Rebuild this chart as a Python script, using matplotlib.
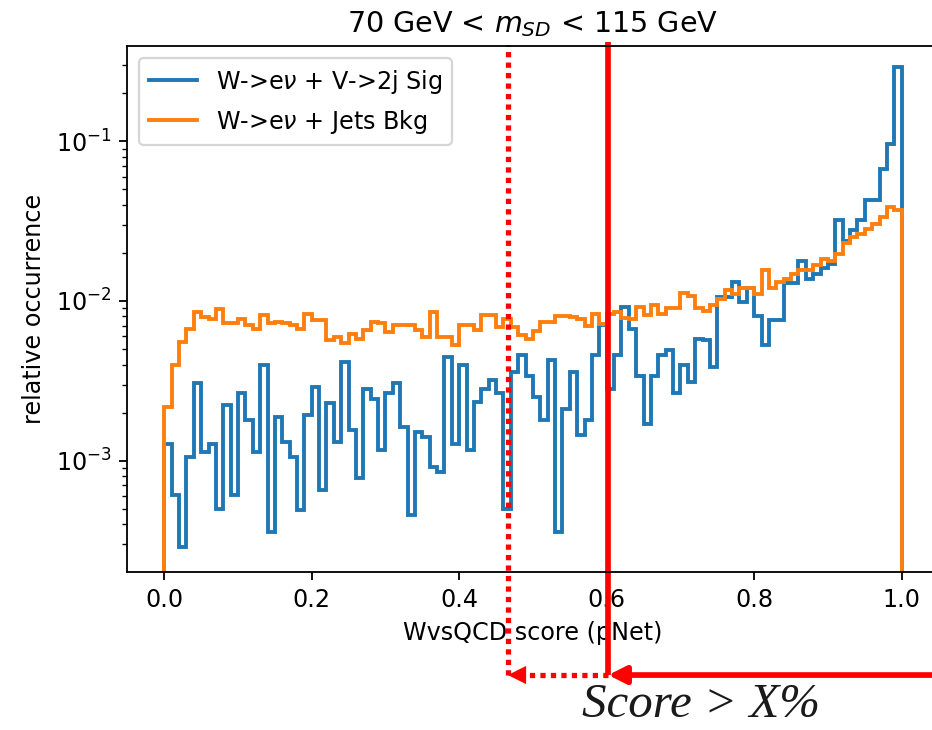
import numpy as np

import matplotlib as mpl
mpl.use('Agg')
import matplotlib.pyplot as plt

# normalised pNet WvsQCD score, 100 bins in [0, 1]
edges = np.linspace(0.0, 1.0, 101)

sig = [0.00128, 0.00061, 0.00029, 0.00106, 0.00305, 0.00114, 0.00128, 0.00050, 0.00223, 0.00061,
       0.00264, 0.00180, 0.00114, 0.00397, 0.00036, 0.00188, 0.00131, 0.00106, 0.00049, 0.00193,
       0.00290, 0.00066, 0.00229, 0.00131, 0.00416, 0.00156, 0.00078, 0.00283, 0.00245, 0.00117,
       0.00264, 0.00305, 0.00163, 0.00046, 0.00152, 0.00141, 0.00092, 0.00085, 0.00447, 0.00128,
       0.00397, 0.00117, 0.00234, 0.00283, 0.00319, 0.00264, 0.00050, 0.00360, 0.00457, 0.00340,
       0.00251, 0.00180, 0.00430, 0.00036, 0.00212, 0.00360, 0.00145, 0.00180, 0.00457, 0.00705,
       0.00283, 0.00457, 0.00917, 0.00671, 0.00340, 0.00171, 0.00340, 0.00457, 0.00492, 0.00264,
       0.00397, 0.00312, 0.00582, 0.00570, 0.00387, 0.01060, 0.01060, 0.01320, 0.00990, 0.01200,
       0.00800, 0.00530, 0.00760, 0.00760, 0.01300, 0.01300, 0.01790, 0.01380, 0.01480, 0.01600,
       0.01710, 0.03190, 0.02390, 0.02770, 0.03190, 0.04260, 0.04260, 0.06700, 0.09630, 0.29000]

bkg = [0.00218, 0.00397, 0.00555, 0.00671, 0.00853, 0.00794, 0.00776, 0.00895, 0.00723, 0.00723,
       0.00776, 0.00705, 0.00671, 0.00813, 0.00723, 0.00740, 0.00723, 0.00705, 0.00671, 0.00833,
       0.00758, 0.00758, 0.00568, 0.00596, 0.00542, 0.00625, 0.00580, 0.00656, 0.00740, 0.00723,
       0.00640, 0.00705, 0.00705, 0.00705, 0.00656, 0.00596, 0.00853, 0.00596, 0.00596, 0.00529,
       0.00705, 0.00705, 0.00656, 0.00813, 0.00813, 0.00689, 0.00776, 0.00690, 0.00610, 0.00580,
       0.00650, 0.00740, 0.00740, 0.00810, 0.00810, 0.00790, 0.00770, 0.00700, 0.00830, 0.00720,
       0.00830, 0.00850, 0.00780, 0.00770, 0.00920, 0.00820, 0.00950, 0.00830, 0.00900, 0.00900,
       0.01120, 0.01080, 0.00900, 0.00870, 0.00950, 0.01030, 0.01170, 0.01110, 0.01200, 0.01200,
       0.01110, 0.01560, 0.01200, 0.01320, 0.01380, 0.01480, 0.01560, 0.01560, 0.01670, 0.01840,
       0.01790, 0.01980, 0.02290, 0.02510, 0.02640, 0.02830, 0.03050, 0.03350, 0.03850, 0.03700]

# working point cuts
cut_lo = 0.466
cut_hi = 0.602

plt.rcParams['font.size'] = 10.5
plt.rcParams['axes.titlesize'] = 12.6

fig = plt.figure(figsize=(932 / 164, 730 / 164), dpi=164)
ax = fig.add_axes([0.1367, 0.2168, 0.8703, 0.7201])

ax.stairs(sig, edges, label='W->e$\\nu$ + V->2j Sig', lw=1.7)
ax.stairs(bkg, edges, label='W->e$\\nu$ + Jets Bkg', lw=1.7)

ax.set_yscale('log')
ax.set_xlim(-0.05, 1.05)
ax.set_ylim(2.02e-4, 0.394)
ax.set_xticks([0.0, 0.2, 0.4, 0.6, 0.8, 1.0])
ax.set_xlabel('WvsQCD score (pNet)')
ax.set_ylabel('relative occurrence')
ax.set_title('70 GeV < $m_{SD}$ < 115 GeV')
ax.legend(loc='upper left')

# cut markers running below the axis
trans = ax.get_xaxis_transform()
y_arr = -0.1965
ax.plot([cut_hi, cut_hi], [y_arr, 1.008], color='red', lw=2.5,
        transform=trans, clip_on=False, solid_capstyle='butt')
ax.plot([cut_lo, cut_lo], [y_arr, 1.002], color='red', lw=2.3, ls=(0, (1, 1)),
        transform=trans, clip_on=False)
ax.plot([cut_hi, cut_lo + 0.018], [y_arr, y_arr], color='red', lw=2.3, ls=(0, (1, 1)),
        transform=trans, clip_on=False)
ax.annotate('', xy=(cut_lo, y_arr), xytext=(cut_lo + 0.022, y_arr),
            xycoords=trans, textcoords=trans, annotation_clip=False,
            arrowprops=dict(arrowstyle='-|>', color='red', lw=0, mutation_scale=20,
                            shrinkA=0, shrinkB=0))
ax.annotate('', xy=(cut_hi, y_arr), xytext=(1.2, y_arr),
            xycoords=trans, textcoords=trans, annotation_clip=False,
            arrowprops=dict(arrowstyle='-|>', color='red', lw=2.5, mutation_scale=16,
                            shrinkA=0, shrinkB=0))

fig.text(701 / 932, 1 - 717 / 730, 'Score > X%', family='Liberation Serif', style='italic',
         fontsize=21.5, ha='center', va='baseline', color='#1a1a1a')

fig.savefig('out.png', dpi=164)
